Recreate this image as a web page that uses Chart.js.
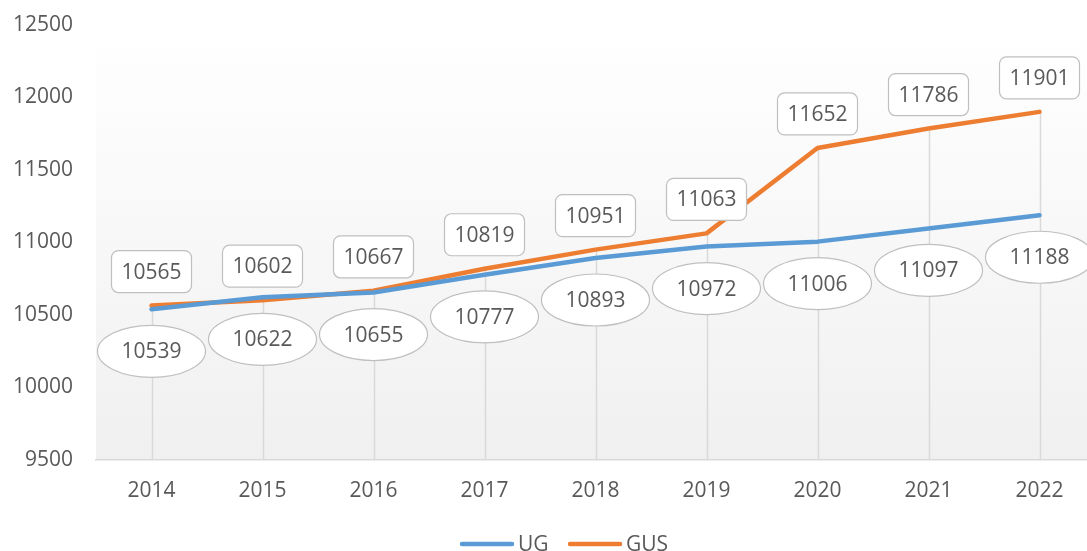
<!DOCTYPE html>
<html>
<head>
<meta charset="utf-8">
<script src="https://cdn.jsdelivr.net/npm/chart.js@4/dist/chart.umd.min.js"></script>
<style>
    html, body { margin: 0; padding: 0; background: #ffffff; overflow: hidden; }
    #wrap { width: 1100px; height: 551px; }
</style>
</head>
<body>
<div id="wrap"><canvas id="salaryChart" width="1100" height="551"></canvas></div>
<script>
// Données du graphique
const years = ['2014', '2015', '2016', '2017', '2018', '2019', '2020', '2021', '2022'];
const ugValues = [10539, 10622, 10655, 10777, 10893, 10972, 11006, 11097, 11188];
const gusValues = [10565, 10602, 10667, 10819, 10951, 11063, 11652, 11786, 11901];
const yMin = 9500;
const yMax = 12500;
const yStep = 500;

const textColor = '#595959';
const fontFamily = '"Open Sans", "Liberation Sans", sans-serif';

// Fond dégradé de la zone de tracé
const plotBackdrop = {
    id: 'plotBackdrop',
    beforeDraw(chart) {
        const { ctx, chartArea } = chart;
        const grad = ctx.createLinearGradient(0, chartArea.top, 0, chartArea.bottom);
        grad.addColorStop(0, '#ffffff');
        grad.addColorStop(1, '#f0f0f0');
        ctx.save();
        ctx.fillStyle = grad;
        ctx.fillRect(chartArea.left, chartArea.top, chartArea.right - chartArea.left, chartArea.bottom - chartArea.top);
        ctx.restore();
    }
};

// Lignes de projection (du point le plus haut jusqu'à l'axe)
const dropLines = {
    id: 'dropLines',
    beforeDatasetsDraw(chart) {
        const { ctx, chartArea } = chart;
        const metas = chart.data.datasets.map((d, i) => chart.getDatasetMeta(i));
        ctx.save();
        ctx.strokeStyle = '#d9d9d9';
        ctx.lineWidth = 1.5;
        metas[0].data.forEach((pt, idx) => {
            const top = Math.min(...metas.map(m => m.data[idx].y));
            ctx.beginPath();
            ctx.moveTo(Math.round(pt.x) + 0.5, top);
            ctx.lineTo(Math.round(pt.x) + 0.5, chartArea.bottom);
            ctx.stroke();
        });
        ctx.restore();
    }
};

// Étiquettes de données : ellipses pour UG, rectangles arrondis pour GUS
const callouts = {
    id: 'callouts',
    afterDatasetsDraw(chart) {
        const { ctx } = chart;
        ctx.save();
        ctx.font = '21px ' + fontFamily;
        ctx.textAlign = 'center';
        ctx.textBaseline = 'middle';
        chart.data.datasets.forEach((ds, i) => {
            const meta = chart.getDatasetMeta(i);
            meta.data.forEach((pt, idx) => {
                const label = String(ds.data[idx]);
                ctx.fillStyle = '#ffffff';
                ctx.strokeStyle = '#bfbfbf';
                ctx.lineWidth = 1.2;
                let cy;
                if (ds.labelShape === 'ellipse') {
                    cy = pt.y + 42;
                    ctx.beginPath();
                    ctx.ellipse(pt.x, cy, 54, 26, 0, 0, Math.PI * 2);
                } else {
                    cy = pt.y - 34;
                    ctx.beginPath();
                    ctx.roundRect(pt.x - 40, cy - 21, 80, 42, 7);
                }
                ctx.fill();
                ctx.stroke();
                ctx.fillStyle = textColor;
                ctx.fillText(label, pt.x, cy + 1);
            });
        });
        ctx.restore();
    }
};

// Légende dessinée à la main (en bas, centrée)
const bottomLegend = {
    id: 'bottomLegend',
    afterDraw(chart) {
        const { ctx } = chart;
        const y = 544;
        const starts = [460, 568];
        ctx.save();
        ctx.font = '21px ' + fontFamily;
        ctx.textBaseline = 'middle';
        ctx.textAlign = 'left';
        chart.data.datasets.forEach((ds, i) => {
            const x = starts[i];
            ctx.strokeStyle = ds.borderColor;
            ctx.lineWidth = 4.5;
            ctx.lineCap = 'round';
            ctx.beginPath();
            ctx.moveTo(x + 2, y);
            ctx.lineTo(x + 52, y);
            ctx.stroke();
            ctx.fillStyle = textColor;
            ctx.fillText(ds.label, x + 58, y + 1);
        });
        ctx.restore();
    }
};

const ctx = document.getElementById('salaryChart').getContext('2d');
const chart = new Chart(ctx, {
    type: 'line',
    data: {
        labels: years,
        datasets: [
            {
                label: 'UG',
                data: ugValues,
                borderColor: '#5b9bd5',
                backgroundColor: '#5b9bd5',
                borderWidth: 4.5,
                pointRadius: 0,
                tension: 0,
                borderCapStyle: 'round',
                borderJoinStyle: 'round',
                labelShape: 'ellipse'
            },
            {
                label: 'GUS',
                data: gusValues,
                borderColor: '#ed7d31',
                backgroundColor: '#ed7d31',
                borderWidth: 4.5,
                pointRadius: 0,
                tension: 0,
                borderCapStyle: 'round',
                borderJoinStyle: 'round',
                labelShape: 'box'
            }
        ]
    },
    options: {
        responsive: false,
        animation: false,
        devicePixelRatio: 1,
        layout: {
            padding: { top: 25, left: 0, right: 5, bottom: 0 }
        },
        plugins: {
            legend: { display: false },
            tooltip: { enabled: false }
        },
        scales: {
            x: {
                offset: true,
                grid: { display: false, drawTicks: false },
                border: { display: true, color: '#d9d9d9', width: 1.5 },
                ticks: {
                    color: textColor,
                    font: { family: fontFamily, size: 21 },
                    padding: 18,
                    maxRotation: 0
                },
                afterFit(scale) { scale.height = 91; }
            },
            y: {
                min: yMin,
                max: yMax,
                grid: { display: false, drawTicks: false },
                border: { display: false },
                ticks: {
                    stepSize: yStep,
                    color: textColor,
                    font: { family: fontFamily, size: 21 },
                    padding: 23,
                    callback: value => String(value)
                },
                afterFit(scale) {
                    scale.width = 96;
                    scale.paddingTop = 0;
                    scale.paddingBottom = 0;
                }
            }
        }
    },
    plugins: [plotBackdrop, dropLines, callouts, bottomLegend]
});
</script>
</body>
</html>
